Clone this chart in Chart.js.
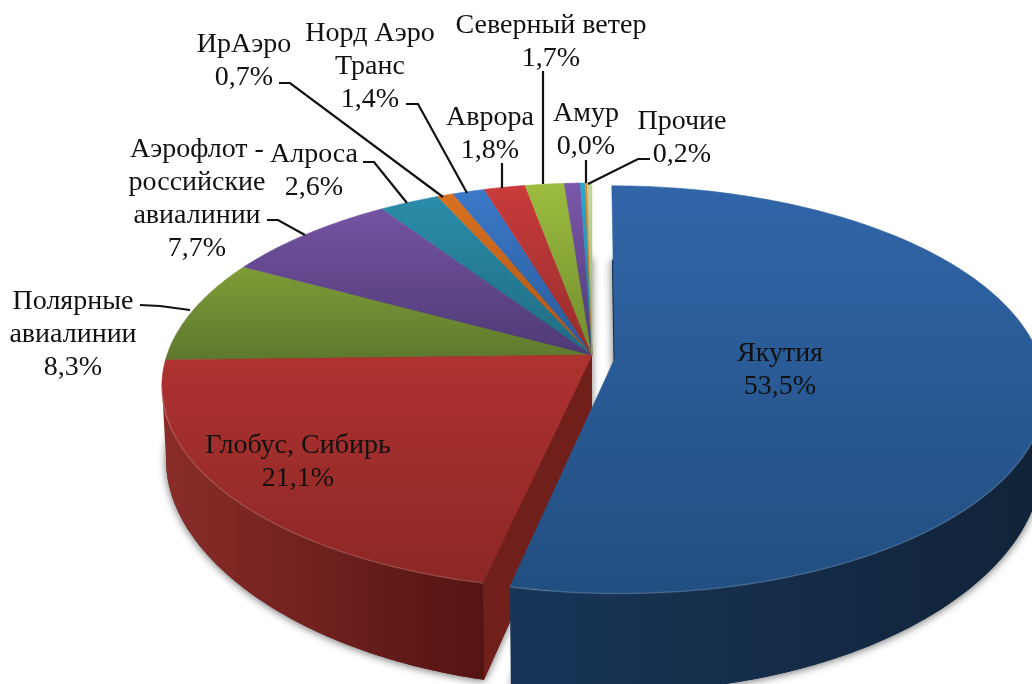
<!DOCTYPE html>
<html>
<head>
<meta charset="utf-8">
<title>Пассажирские авиаперевозки</title>
<script src="https://cdn.jsdelivr.net/npm/chart.js@4"></script>
<style>
    html, body { margin: 0; padding: 0; background: #fff; overflow: hidden; }
    canvas { display: block; }
</style>
</head>
<body>
<canvas id="pie3d" width="1032" height="684"></canvas>
<script>
// Slices in drawing order, clockwise from 12 o'clock. Two thin slices have no caption.
var categories = ['Якутия', 'Глобус, Сибирь', 'Полярные авиалинии', 'Аэрофлот - российские авиалинии', 'Алроса', 'ИрАэро', 'Норд Аэро Транс', 'Аврора', 'Северный ветер', '', 'Амур', 'Прочие', ''];
var values = [53.5, 21.1, 8.3, 7.7, 2.6, 0.7, 1.4, 1.8, 1.7, 0.7, 0.2, 0.1, 0.2];
var percentLabels = ['53,5%', '21,1%', '8,3%', '7,7%', '2,6%', '0,7%', '1,4%', '1,8%', '1,7%', '', '0,0%', '0,2%', ''];

var rimColors = ['#3065a8', '#c83a38', '#9cbc3e', '#7b57a9', '#2b8fac', '#dc7220', '#3b79c9', '#c93b3b', '#9cbc3e', '#7b57a9', '#27a8cf', '#e08a2c', '#c4d89a'];
var lowColors = ['#224f81', '#8a2725', '#5d782e', '#4d3974', '#1f6a80', '#a85518', '#2a5a98', '#962c2c', '#6f8a2e', '#4d3974', '#1f7a98', '#a86820', '#93a870'];
var wallColors = ['#132d4c', '#5c1715', '#3f5120', '#33264e', '#144755', '#703810', '#1c3c66', '#641d1d', '#4a5c1e', '#33264e', '#145165', '#704514', '#62704b'];

// Caption lines, their centres, and the leader lines
var captionNames = [
    ['Якутия'],
    ['Глобус, Сибирь'],
    ['Полярные', 'авиалинии'],
    ['Аэрофлот -', 'российские', 'авиалинии'],
    ['Алроса'],
    ['ИрАэро'],
    ['Норд Аэро', 'Транс'],
    ['Аврора'],
    ['Северный ветер'],
    [],
    ['Амур'],
    ['Прочие'],
    []
];
var captionX = [780, 298, 73, 197, 314, 244, 370, 490, 551, 0, 586, 682, 0];
var captionY = [354, 446, 302, 150, 155, 45, 34, 118, 26, 0, 114, 122, 0];
var captionStep = 33;
var leaders = [
    [],
    [],
    [[140, 305], [160, 306], [190, 310]],
    [[267, 220], [278, 220], [305, 235]],
    [[363, 162], [374, 162], [407, 203]],
    [[279, 83], [290, 83], [443, 197]],
    [[406, 104], [418, 104], [467, 193]],
    [[502, 163], [502, 188]],
    [[543, 71], [543, 184]],
    [],
    [[586, 160], [586, 183]],
    [[650, 159], [638, 159], [588, 184]],
    []
];

// The tilted disc: circle of radius R seen in perspective
var CX = 592, CY = 355, R = 425, RY = 198.5, K = 0.154;
var SILHOUETTE = Math.asin(K); // angle where the rim is widest on screen

function rimPoint(a, arc) {
    var den = 1 - K * Math.sin(a);
    return { x: CX + (R * Math.cos(a) + arc.dx) / den, y: CY + (RY * Math.sin(a) + arc.dy) / den };
}

function lowerPoint(a, arc) {
    var p = rimPoint(a, arc);
    var s = Math.max(0, Math.sin(a));
    return { x: CX + arc.dx + (p.x - CX - arc.dx) * 0.99, y: p.y + 74 + 24 * s * s };
}

function sector(ctx, arc, pointFn, apexDrop) {
    ctx.beginPath();
    ctx.moveTo(CX + arc.dx, CY + arc.dy + apexDrop);
    var steps = Math.max(2, Math.ceil((arc.end - arc.start) * 90));
    for (var i = 0; i <= steps; i++) {
        var p = pointFn(arc.start + (arc.end - arc.start) * i / steps, arc);
        ctx.lineTo(p.x, p.y);
    }
    ctx.closePath();
}

function drawBody(ctx, arc, color) {
    ctx.save();
    ctx.shadowColor = 'rgba(0, 0, 0, 0.6)';
    ctx.shadowBlur = 8;
    ctx.shadowOffsetY = 1;
    ctx.fillStyle = color;
    sector(ctx, arc, lowerPoint, 85);
    ctx.fill();
    ctx.restore();
}

function drawRimWall(ctx, arc, wallFrom, wallTo) {
    var from = Math.max(arc.start, SILHOUETTE), to = Math.min(arc.end, Math.PI - SILHOUETTE);
    if (to <= from) return;
    var left = rimPoint(to, arc).x, right = rimPoint(from, arc).x;
    var grad = ctx.createLinearGradient(left, 0, right, 0);
    grad.addColorStop(0, wallFrom);
    grad.addColorStop(1, wallTo);
    ctx.fillStyle = grad;
    ctx.beginPath();
    var steps = Math.ceil((to - from) * 90), i, p;
    for (i = 0; i <= steps; i++) {
        p = rimPoint(from + (to - from) * i / steps, arc);
        if (i === 0) ctx.moveTo(p.x, p.y); else ctx.lineTo(p.x, p.y);
    }
    for (i = steps; i >= 0; i--) {
        p = lowerPoint(from + (to - from) * i / steps, arc);
        ctx.lineTo(p.x, p.y);
    }
    ctx.closePath();
    ctx.fill();
}

function drawCutFace(ctx, arc, angle, color) {
    var a = rimPoint(angle, arc), b = lowerPoint(angle, arc);
    ctx.fillStyle = color;
    ctx.beginPath();
    ctx.moveTo(CX + arc.dx, CY + arc.dy);
    ctx.lineTo(a.x, a.y);
    ctx.lineTo(b.x, b.y);
    ctx.lineTo(CX + arc.dx, CY + arc.dy + 85);
    ctx.closePath();
    ctx.fill();
}

function drawTop(ctx, arc, i, yTo) {
    var grad = ctx.createLinearGradient(0, 185, 0, yTo);
    grad.addColorStop(0, rimColors[i]);
    grad.addColorStop(1, lowColors[i]);
    ctx.fillStyle = grad;
    ctx.strokeStyle = grad;
    ctx.lineWidth = 0.6;
    sector(ctx, arc, rimPoint, 0);
    ctx.fill();
    ctx.stroke();
}

function drawRimLight(ctx, arc, from, to) {
    ctx.strokeStyle = 'rgba(255, 255, 255, 0.16)';
    ctx.lineWidth = 1.5;
    ctx.beginPath();
    for (var a = from; a <= to; a += 0.01) {
        var p = rimPoint(a, arc);
        if (a === from) ctx.moveTo(p.x, p.y); else ctx.lineTo(p.x, p.y);
    }
    ctx.stroke();
}

var pie3dPlugin = {
    id: 'pie3d',
    beforeDatasetDraw: function(chart) {
        var ctx = chart.ctx;
        var arcs = chart.getDatasetMeta(0).data.map(function(el) {
            var mid = (el.startAngle + el.endAngle) / 2;
            var off = el.options.offset || 0;
            return { start: el.startAngle, end: el.endAngle, dx: off * Math.cos(mid), dy: off * Math.sin(mid) * 1.3 };
        });
        var i;

        // everything but the pulled out slice
        for (i = 1; i < arcs.length; i++) drawBody(ctx, arcs[i], wallColors[i]);
        drawCutFace(ctx, arcs[1], arcs[1].start, '#701f1b');
        drawRimWall(ctx, arcs[1], '#8a2d29', '#541412');
        for (i = 2; i < arcs.length; i++) drawTop(ctx, arcs[i], i, 360);
        drawTop(ctx, arcs[1], 1, 590);
        drawRimLight(ctx, arcs[1], arcs[1].start, Math.PI - SILHOUETTE);

        // the pulled out slice goes on top
        drawBody(ctx, arcs[0], wallColors[0]);
        drawRimWall(ctx, arcs[0], '#183558', '#102338');
        drawTop(ctx, arcs[0], 0, 590);
        drawRimLight(ctx, arcs[0], 0.3, arcs[0].end);
        return false;
    },
    afterDatasetsDraw: function(chart) {
        var ctx = chart.ctx;
        ctx.save();
        ctx.strokeStyle = '#111';
        ctx.lineWidth = 2.2;
        leaders.forEach(function(line) {
            if (!line.length) return;
            ctx.beginPath();
            line.forEach(function(pt, n) {
                if (n === 0) ctx.moveTo(pt[0], pt[1]); else ctx.lineTo(pt[0], pt[1]);
            });
            ctx.stroke();
        });
        ctx.fillStyle = '#111';
        ctx.font = '28px "Liberation Serif", serif';
        ctx.textAlign = 'center';
        ctx.textBaseline = 'middle';
        captionNames.forEach(function(lines, i) {
            if (!lines.length) return;
            lines.concat(percentLabels[i]).forEach(function(txt, n) {
                ctx.fillText(txt, captionX[i], captionY[i] + n * captionStep);
            });
        });
        ctx.restore();
    }
};

new Chart(document.getElementById('pie3d'), {
    type: 'pie',
    data: {
        labels: categories,
        datasets: [{
            data: values,
            backgroundColor: rimColors,
            offset: [23, 0, 0, 0, 0, 0, 0, 0, 0, 0, 0, 0, 0],
            borderWidth: 0
        }]
    },
    options: {
        responsive: false,
        animation: false,
        rotation: 0,
        plugins: { legend: { display: false }, tooltip: { enabled: false } }
    },
    plugins: [pie3dPlugin]
});
</script>
</body>
</html>
